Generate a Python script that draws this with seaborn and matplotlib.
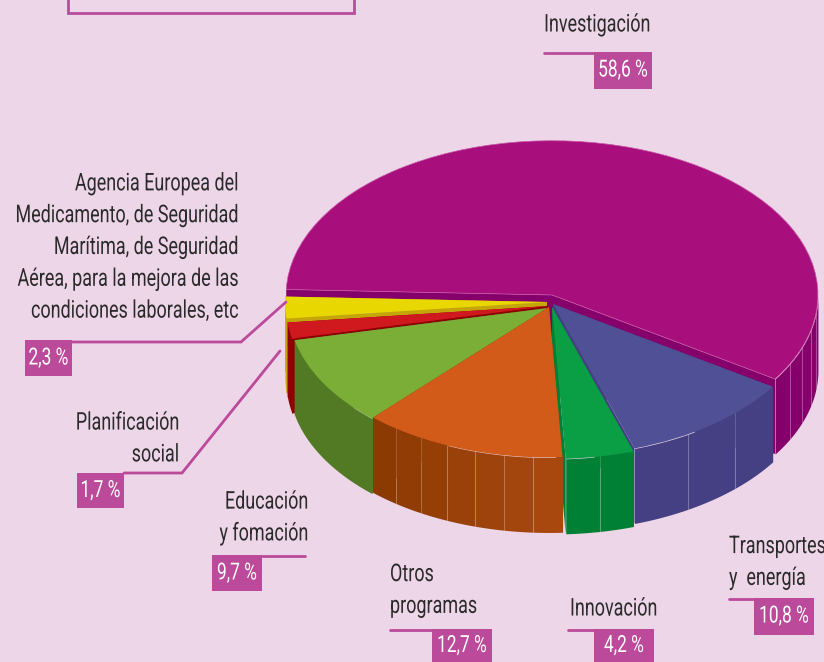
import numpy as np
import matplotlib
matplotlib.use('Agg')
import matplotlib.pyplot as plt
import seaborn as sns
from matplotlib.patches import Rectangle
from matplotlib.patheffects import AbstractPathEffect
from matplotlib.transforms import Affine2D

# shares of the budget, in the order they go round the pie
names = ['Investigación', 'Agencia Europea del\nMedicamento, de Seguridad\nMarítima, de Seguridad\nAérea, para la mejora de las\ncondiciones laborales, etc',
         'Planificación\nsocial', 'Educación\ny fomación', 'Otros\nprogramas', 'Innovación', 'Transportes\ny  energía']
values = [58.6, 2.3, 1.7, 9.7, 12.7, 4.2, 10.8]

top_colors = ['#A90F7C', '#E8D700', '#D0181F', '#7AAE36', '#D35B1A', '#0A9E45', '#505096']
side_from = ['#85006B', '#C4A60A', '#8F0000', '#527A24', '#8B3A02', '#008035', '#444083']
side_to = ['#85006B', '#C4A60A', '#8F0000', '#527A24', '#A8480F', '#008035', '#444083']
facets = [5, 1, 1, 1, 7, 2, 3]

bg = '#EDD6E8'
pink = '#BC4A9A'
ink = '#2A2A2A'
fonts = ['Roboto', 'DejaVu Sans']
narrow_x = 0.735

sns.set_theme(style='white')
plt.rcParams['font.family'] = fonts


# no condensed face is installed, so the glyphs get squeezed sideways around an anchor
class Squeeze(AbstractPathEffect):
    def __init__(self, anchor):
        super().__init__()
        self.anchor = anchor

    def draw_path(self, renderer, gc, tpath, affine, rgbFace=None):
        squeeze = Affine2D().translate(-self.anchor, 0).scale(narrow_x, 1).translate(self.anchor, 0)
        renderer.draw_path(gc, tpath, affine + squeeze, rgbFace)


fig = plt.figure(figsize=(8.24, 6.62), dpi=100, facecolor=bg)
ax = fig.add_axes([0, 0, 1, 1])

# pie centre and radii on the page, in pixels
cx, cy, rx, ry, depth = 552, 306, 262, 152, 75
start = -33

wedges, _ = ax.pie(values, colors=top_colors, startangle=start, radius=1, wedgeprops={'linewidth': 0})
ax.set_aspect('auto')
ax.set_xlim(-cx / rx, (824 - cx) / rx)
ax.set_ylim((cy - 662) / ry, cy / ry)
ax.axis('off')

# little shifts of each slice, in pixels (x right, y down), and radius
shifts = [(0, -11), (-5, -4), (-4, 0), (-4, 2), (-3, 1), (0, 1), (1, -2)]
radii = [1.015, 1, 1, 0.99, 0.99, 1, 1]
# back to front
draw_order = [0, 1, 2, 3, 6, 5, 4]

edges = start + np.concatenate([[0], np.cumsum(values)]) * 3.6
d = depth / ry

for z, i in enumerate(draw_order):
    z0 = 2 + z * 3
    x0 = shifts[i][0] / rx
    y0 = -shifts[i][1] / ry
    r = radii[i]
    t1, t2 = edges[i], edges[i + 1]
    wedges[i].set_center((x0, y0))
    wedges[i].set_radius(r)
    wedges[i].set_zorder(z0 + 2)
    if i == 0:
        wedges[i].set_edgecolor('#C85AA8')
        wedges[i].set_linewidth(0.5)

    # cut faces of the slice
    for t in (t1, t2):
        px = x0 + r * np.cos(np.radians(t))
        py = y0 + r * np.sin(np.radians(t))
        ax.fill([x0, px, px, x0], [y0, py, py - d, y0 - d], color=side_from[i], lw=0, zorder=z0)

    # outer wall, only the part turned to the viewer
    if i == 0:
        a1, a2 = t1, 0
    else:
        a1, a2 = max(t1, 180), min(t2, 360)
    if a2 <= a1:
        continue
    n = facets[i]
    shades = sns.blend_palette([side_from[i], side_to[i]], n)
    cuts = np.linspace(a1, a2, n + 1)
    for k in range(n):
        t = np.radians(np.linspace(cuts[k], cuts[k + 1], 30))
        xs = x0 + r * np.cos(t)
        ys = y0 + r * np.sin(t)
        ax.fill_between(xs, ys, ys - d, color=shades[k], lw=0, zorder=z0 + 1)
        if k > 0:
            ax.plot([xs[0], xs[0]], [ys[0], ys[0] - d], color='white', alpha=0.16, lw=0.8, zorder=z0 + 1)

# text layer in page pixels
ax2 = fig.add_axes([0, 0, 1, 1], facecolor='none')
ax2.set_xlim(0, 824)
ax2.set_ylim(662, 0)
ax2.axis('off')

# frame of the box cut by the top of the page
ax2.plot([68, 68, 354, 354], [0, 13, 13, 0], color=pink, lw=2, solid_joinstyle='miter')

text_x = [650, 238, 179, 308, 390, 570, 729]
text_y = [25, 247.5, 439, 518, 590.5, 609, 562.5]
text_ha = ['right', 'right', 'right', 'right', 'left', 'left', 'left']
# long lines get anchored at their other end so the unsqueezed box stays on the page
flip_anchor = [False, True, False, False, False, False, True]
boxes = [(594, 52, 652, 89), (25, 340, 72, 376), (77, 473, 124, 508), (212, 555, 262, 591),
         (432, 629, 492, 662), (594, 629, 654, 662), (754, 598, 814, 635)]
leaders = [[(544, 53), (594, 53)],
           [(72, 342), (241, 342), (286, 302)],
           [(124, 473), (182, 473), (280, 351)],
           [(262, 556), (305, 556)],
           [(390, 630), (432, 630)],
           [(568, 630), (594, 630)],
           [(729, 599), (754, 599)]]

renderer = fig.canvas.get_renderer()
for i, name in enumerate(names):
    t = ax2.text(text_x[i], text_y[i], name, ha=text_ha[i], va='center', color=ink, fontsize=17.6,
                 linespacing=1.49, multialignment=text_ha[i])
    anchor = text_x[i]
    if flip_anchor[i]:
        width = t.get_window_extent(renderer).width * narrow_x
        if text_ha[i] == 'right':
            anchor = text_x[i] - width
            t.set_ha('left')
        else:
            anchor = text_x[i] + width
            t.set_ha('right')
        t.set_x(anchor)
    t.set_path_effects([Squeeze(anchor)])

    x1, y1, x2, y2 = boxes[i]
    ax2.add_patch(Rectangle((x1, y1), x2 - x1, y2 - y1, color=pink, lw=0))
    label = f'{values[i]:.1f} %'.replace('.', ',')
    mid = (x1 + x2) / 2
    t = ax2.text(mid, (y1 + min(y2, y1 + 36)) / 2, label, ha='center', va='center', color='white', fontsize=17)
    t.set_path_effects([Squeeze(mid)])
    line = np.array(leaders[i])
    ax2.plot(line[:, 0], line[:, 1], color=pink, lw=2, solid_joinstyle='miter')

fig.savefig('out.png', dpi=100, facecolor=bg)
